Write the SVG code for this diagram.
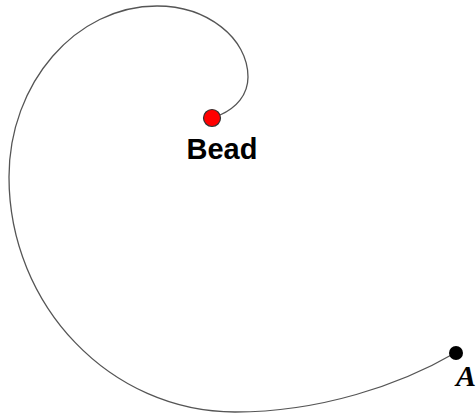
<svg xmlns="http://www.w3.org/2000/svg" width="476" height="418" viewBox="0 0 476 418">
<style>
.curve{fill:none;stroke:#555;stroke-width:1.3}
.lbl{font-family:"Liberation Sans",Arial,sans-serif;font-weight:bold;fill:#000}
.lblA{font-family:"Liberation Serif","Times New Roman",serif;font-weight:bold;font-style:italic;fill:#000}
</style>
<rect width="476" height="418" fill="#fff"/>
<g id="connectors">
<path class="curve" d="M 220,115 C 236,108 248,95 248,77 C 248,38 207,6 157,6 C 76,6 9,83 9,177 C 9,306 111,412 235,412 C 320,412 400,385 455,353"/>
</g>
<g id="bead">
<circle cx="212" cy="118" r="8.5" fill="#f00" stroke="#333" stroke-width="1.2"/>
<text class="lbl" x="222" y="159" font-size="29" text-anchor="middle">Bead</text>
</g>
<g id="pointA">
<circle cx="456" cy="353" r="7" fill="#000"/>
<text class="lblA" x="456" y="386" font-size="30">A</text>
</g>
</svg>
